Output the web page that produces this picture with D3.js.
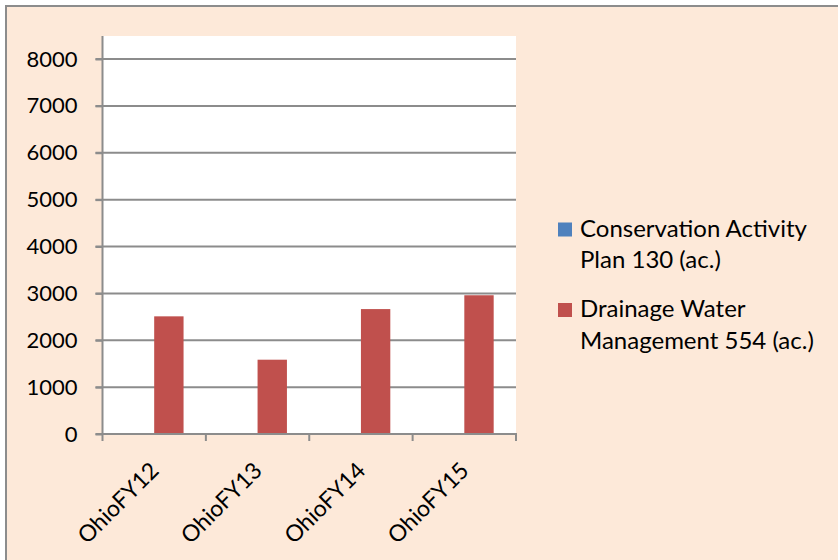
<!DOCTYPE html>
<html>
<head>
<meta charset="utf-8">
<script src="https://cdnjs.cloudflare.com/ajax/libs/d3/7.8.5/d3.min.js"></script>
<style>
  body { margin: 0; background: #fff; }
  svg text { font-family: Lato, "Noto Sans", sans-serif; fill: #000; }
</style>
</head>
<body>
<div id="chart"></div>
<script>
// chart values
var categories = ["OhioFY12", "OhioFY13", "OhioFY14", "OhioFY15"];
var seriesNames = ["Conservation Activity Plan 130 (ac.)", "Drainage Water Management 554 (ac.)"];
var legendLines = [["Conservation Activity", "Plan 130 (ac.)"], ["Drainage Water", "Management 554 (ac.)"]];
var conservationValues = [0, 0, 0, 0];
var drainageValues = [2510, 1585, 2665, 2960];
var yTicks = [0, 1000, 2000, 3000, 4000, 5000, 6000, 7000, 8000];

var seriesColors = ["#4F81BD", "#C0504D"];

var width = 838, height = 560;
var plot = { left: 102.5, right: 516, top: 36, bottom: 434 };

var svg = d3.select("#chart").append("svg")
  .attr("width", width)
  .attr("height", height);

// chart area background + border (only top/left visible in picture)
svg.append("rect")
  .attr("x", 6).attr("y", 6)
  .attr("width", width + 10).attr("height", height + 10)
  .attr("fill", "#FDE9D9")
  .attr("stroke", "#8C8C8C")
  .attr("stroke-width", 2);

// plot area
svg.append("rect")
  .attr("x", plot.left).attr("y", plot.top)
  .attr("width", plot.right - plot.left).attr("height", plot.bottom - plot.top)
  .attr("fill", "#fff");

var x = d3.scaleBand().domain(categories).range([plot.left, plot.right]).paddingInner(0).paddingOuter(0);
var xInner = d3.scaleBand().domain([0, 1]).range([0, x.bandwidth()]).paddingOuter(0.76).paddingInner(0);
var y = d3.scaleLinear().domain([0, 8000]).range([plot.bottom, 59]);

// gridlines
svg.append("g")
  .selectAll("line")
  .data(yTicks)
  .enter()
  .append("line")
  .attr("x1", plot.left - 7).attr("x2", plot.right)
  .attr("y1", function(d) { return y(d); })
  .attr("y2", function(d) { return y(d); })
  .attr("stroke", "#8C8C8C")
  .attr("stroke-width", 2);

// y axis
var yAxis = svg.append("g")
  .attr("transform", "translate(" + plot.left + ",0)")
  .call(d3.axisLeft(y).tickValues(yTicks).tickSize(7).tickPadding(18).tickFormat(d3.format("d")));
yAxis.select(".domain").remove();
yAxis.selectAll(".tick line").attr("stroke", "#8C8C8C").attr("stroke-width", 2);
yAxis.selectAll("text").style("font-size", "22px").attr("fill", "#000");
svg.append("line")
  .attr("x1", plot.left).attr("x2", plot.left)
  .attr("y1", plot.top).attr("y2", plot.bottom + 1)
  .attr("stroke", "#8C8C8C").attr("stroke-width", 2);

// bars
var seriesData = [conservationValues, drainageValues];
seriesData.forEach(function(vals, si)
  {
  svg.append("g")
    .selectAll("rect")
    .data(vals)
    .enter()
    .append("rect")
    .attr("x", function(d, i) { return x(categories[i]) + xInner(si); })
    .attr("width", xInner.bandwidth())
    .attr("y", function(d) { return y(d); })
    .attr("height", function(d) { return plot.bottom - y(d); })
    .attr("fill", seriesColors[si]);
  });

// x axis
var xAxisLine = svg.append("g");
xAxisLine.append("line")
  .attr("x1", plot.left - 1).attr("x2", plot.right + 1)
  .attr("y1", plot.bottom).attr("y2", plot.bottom)
  .attr("stroke", "#8C8C8C").attr("stroke-width", 2);
var xTickPos = categories.map(function(c) { return x(c); }).concat([plot.right]);
xAxisLine.selectAll(".xt")
  .data(xTickPos)
  .enter()
  .append("line")
  .attr("x1", function(d) { return d; }).attr("x2", function(d) { return d; })
  .attr("y1", plot.bottom).attr("y2", plot.bottom + 7)
  .attr("stroke", "#8C8C8C").attr("stroke-width", 2);

// rotated category labels
svg.append("g")
  .selectAll("text")
  .data(categories)
  .enter()
  .append("text")
  .attr("transform", function(d) { return "translate(" + (x(d) + x.bandwidth() / 2 + 6) + "," + 472 + ") rotate(-45)"; })
  .attr("text-anchor", "end")
  .style("font-size", "23px")
  .text(function(d) { return d; });

// legend
var legend = svg.append("g");
var legendTop = [222.5, 303];
legendLines.forEach(function(lines, li)
  {
  legend.append("rect")
    .attr("x", 558).attr("y", legendTop[li])
    .attr("width", 14).attr("height", 14)
    .attr("fill", seriesColors[li]);
  lines.forEach(function(t, k)
    {
    legend.append("text")
      .attr("x", 580)
      .attr("y", legendTop[li] + 14 + k * 31.5)
      .style("font-size", "24px")
      .text(t);
    });
  });
</script>
</body>
</html>
